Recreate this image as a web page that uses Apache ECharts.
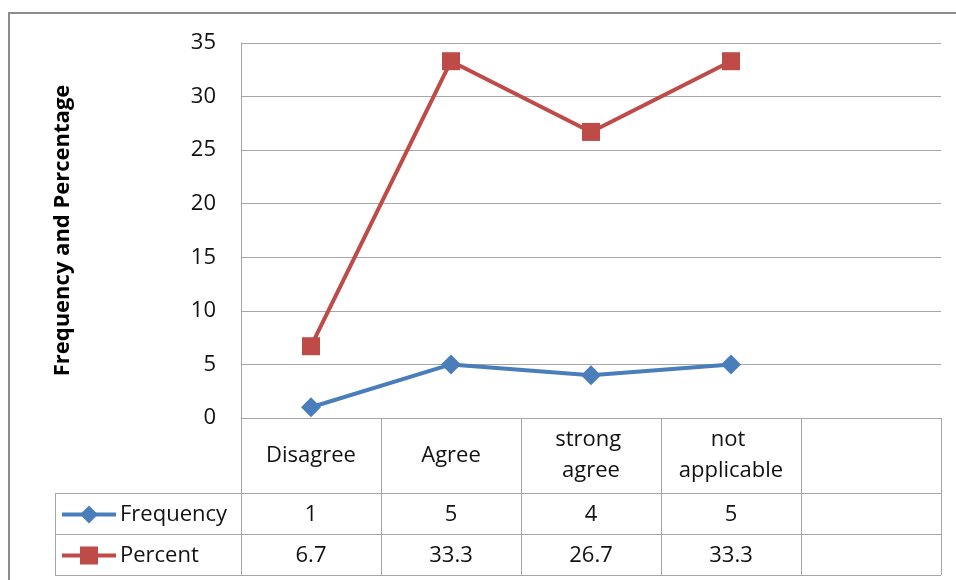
<!DOCTYPE html>
<html>
<head>
<meta charset="utf-8">
<script src="https://cdn.jsdelivr.net/npm/echarts@6/dist/echarts.min.js"></script>
<style>
  html, body { margin: 0; padding: 0; background: #fff; }
  #chart { width: 956px; height: 580px; }
</style>
</head>
<body>
<div id="chart"></div>
<script>
// Response categories (last column is an empty slot in the data table)
const categories = ['Disagree', 'Agree', 'strong agree', 'not applicable', ''];
const frequency = [1, 5, 4, 5, null];
const percent = [6.7, 33.3, 26.7, 33.3, null];
const seriesNames = ['Frequency', 'Percent'];
const yTicks = { min: 0, max: 35, step: 5 };

const FONT = '"Open Sans", "Noto Sans", sans-serif';
const FS = 22;
const TEXT = '#111';
const BLUE = '#4a7ebb';
const RED = '#be4b48';
const GRID_GRAY = '#a6a6a6';

const chart = echarts.init(document.getElementById('chart'), null, { renderer: 'canvas' });

const option = {
  animation: false,
  backgroundColor: '#fff',
  grid: { left: 241, right: 15, top: 43, bottom: 162 },
  xAxis: {
    type: 'category',
    data: categories,
    boundaryGap: true,
    axisLine: { show: true, lineStyle: { color: GRID_GRAY, width: 1 } },
    axisTick: { show: false },
    axisLabel: { show: false },
    splitLine: { show: false }
  },
  yAxis: {
    type: 'value',
    min: yTicks.min,
    max: yTicks.max,
    interval: yTicks.step,
    name: 'Frequency and Percentage',
    nameLocation: 'middle',
    nameGap: 167,
    nameTextStyle: { fontFamily: FONT, fontSize: 22, fontWeight: 'bold', color: '#000' },
    axisLine: { show: true, lineStyle: { color: GRID_GRAY, width: 1 } },
    axisTick: { show: false },
    axisLabel: { fontFamily: FONT, fontSize: FS, color: TEXT, margin: 25 },
    splitLine: { show: true, lineStyle: { color: GRID_GRAY, width: 1 } }
  },
  series: [
    {
      name: seriesNames[0],
      type: 'line',
      data: frequency,
      symbol: 'diamond',
      symbolSize: 20,
      lineStyle: { color: BLUE, width: 4 },
      itemStyle: { color: BLUE }
    },
    {
      name: seriesNames[1],
      type: 'line',
      data: percent,
      symbol: 'rect',
      symbolSize: 18,
      lineStyle: { color: RED, width: 4 },
      itemStyle: { color: RED }
    }
  ]
};

chart.setOption(option);

// Data table under the plot, aligned to the category bands
function buildTable() {
  const n = categories.length;
  const x0 = chart.convertToPixel({ xAxisIndex: 0 }, 0);
  const x1 = chart.convertToPixel({ xAxisIndex: 0 }, 1);
  const band = x1 - x0;
  const left = x0 - band / 2;
  const right = left + band * n;
  const axisY = chart.convertToPixel({ yAxisIndex: 0 }, 0);
  const headerH = 75, rowH = 41;
  const rowTop = axisY + headerH;
  const tableBottom = rowTop + rowH * 2;
  const legendLeft = 55;
  const lineStyle = { stroke: GRID_GRAY, lineWidth: 1 };
  const els = [];

  // outer chart border
  els.push({ type: 'rect', shape: { x: 9, y: 13, width: 1000, height: 600 },
    style: { fill: null, stroke: '#8c8c8c', lineWidth: 2 }, z: 0 });

  // vertical cell lines
  for (let i = 0; i <= n; i++) {
    const x = Math.round(left + band * i) + 0.5;
    els.push({ type: 'line', shape: { x1: x, y1: axisY, x2: x, y2: tableBottom }, style: lineStyle });
  }
  const lx = legendLeft + 0.5;
  els.push({ type: 'line', shape: { x1: lx, y1: rowTop, x2: lx, y2: tableBottom }, style: lineStyle });

  // horizontal lines
  for (let r = 0; r < 3; r++) {
    const y = Math.round(rowTop + rowH * r) + 0.5;
    els.push({ type: 'line', shape: { x1: legendLeft, y1: y, x2: right, y2: y }, style: lineStyle });
  }
  const ay = Math.round(axisY) + 0.5;
  els.push({ type: 'line', shape: { x1: left, y1: ay, x2: right, y2: ay }, style: lineStyle });

  // category header labels
  categories.forEach((c, i) => {
    els.push({ type: 'text', x: left + band * (i + 0.5), y: axisY + headerH / 2,
      style: { text: c, fontFamily: FONT, fontSize: FS, fill: TEXT, align: 'center',
        verticalAlign: 'middle', width: 118, overflow: 'break', lineHeight: 31 } });
  });

  // value rows with legend keys
  const rows = [
    { name: seriesNames[0], values: frequency, color: BLUE, marker: 'diamond' },
    { name: seriesNames[1], values: percent, color: RED, marker: 'rect' }
  ];
  rows.forEach((row, r) => {
    const cy = rowTop + rowH * r + rowH / 2 + 1;
    els.push({ type: 'line', shape: { x1: 62, y1: cy, x2: 116, y2: cy },
      style: { stroke: row.color, lineWidth: 4 } });
    if (row.marker === 'diamond') {
      els.push({ type: 'polygon', shape: { points: [[89, cy - 9], [98, cy], [89, cy + 9], [80, cy]] },
        style: { fill: row.color } });
    } else {
      els.push({ type: 'rect', shape: { x: 80, y: cy - 9, width: 18, height: 18 },
        style: { fill: row.color } });
    }
    els.push({ type: 'text', x: 120, y: cy,
      style: { text: row.name, fontFamily: FONT, fontSize: FS, fill: TEXT, align: 'left', verticalAlign: 'middle' } });
    row.values.forEach((v, i) => {
      if (v === null) return;
      els.push({ type: 'text', x: left + band * (i + 0.5), y: cy,
        style: { text: String(v), fontFamily: FONT, fontSize: FS, fill: TEXT, align: 'center', verticalAlign: 'middle' } });
    });
  });

  chart.setOption({ graphic: els });
}

buildTable();
</script>
</body>
</html>
